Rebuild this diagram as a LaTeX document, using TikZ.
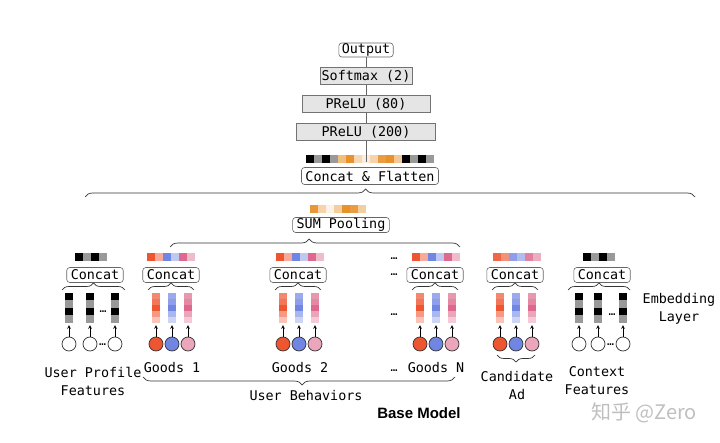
\documentclass[tikz,border=0pt]{standalone}
\usepackage{fontspec}
\setmonofont{DejaVu Sans Mono}
\newfontfamily\basefont{Liberation Sans}
\newfontfamily\cjkfont{Noto Sans CJK SC}
\usetikzlibrary{arrows, decorations.pathreplacing, positioning}

\definecolor{redc}{HTML}{EE5531}
\definecolor{bluec}{HTML}{7186E2}
\definecolor{pinkc}{HTML}{DD6A8E}
\definecolor{orgc}{HTML}{E8912D}

\tikzstyle{layer} = [rectangle, draw=black!55, fill=black!10, line width=0.6pt, minimum height=16.5pt, inner sep=0pt]
\tikzstyle{concat} = [rectangle, rounded corners=3pt, draw=black!60, fill=white, line width=0.6pt, minimum height=15pt, inner xsep=4pt, inner ysep=0pt]
\tikzstyle{feat} = [circle, draw=black!80, line width=0.7pt, minimum size=14pt, inner sep=0pt]
\tikzstyle{arrow} = [->, >=stealth, line width=0.6pt, shorten >=2pt]
\tikzstyle{link} = [draw=black!60, line width=0.6pt]
\tikzstyle{curly} = [decorate, decoration={brace, amplitude=8pt}, line width=0.7pt, black!80]
\tikzstyle{ell} = [font=\ttfamily\fontsize{11.5}{11.5}\selectfont, inner sep=0pt, anchor=base]

% horizontal embedding: x left, y top, colours
\newcommand{\embrow}[3]{\foreach \cc [count=\i from 0] in {#3} \fill[\cc] ({#1+8*\i-0.2},#2) rectangle ++(8.4,8);}
% vertical embedding: name, x centre, cell height, colours
\newcommand{\embcol}[4]{%
  \foreach \cc [count=\i from 0] in {#4} \fill[\cc] ({#2-4},{293+#3*\i-0.2}) rectangle ++(8,#3+0.4);
  \node[inner sep=0pt, minimum width=8pt, minimum height=30pt] (#1) at ({#2},308) {};}

\begin{document}
\begin{tikzpicture}[x=1pt, y=-1pt, node distance=28pt, font=\ttfamily\fontsize{13.4}{18}\selectfont]
  \useasboundingbox (0,0) rectangle (720,443);

  % MLP on top
  \node (out) [concat, minimum height=14pt, inner xsep=3pt] at (366,50) {Output};
  \node (soft) [layer, minimum width=92pt, below of=out, node distance=26pt] {Softmax (2)};
  \node (p80) [layer, minimum width=128pt, below of=soft] {PReLU (80)};
  \node (p200) [layer, minimum width=139pt, below of=p80] {PReLU (200)};
  \embrow{306}{155}{black,black!40,black,black!40,orgc!60,orgc,orgc!35,orgc!15,orgc!40,orgc!90,orgc,orgc!50,black,black!40,black,black!40}
  \coordinate (flatvec) at (366,162);
  \node (flat) [concat, minimum height=17pt] at (370,176) {Concat \& Flatten};
  \draw [link] (out) -- (soft) (soft) -- (p80) (p80) -- (p200) (p200) -- (flatvec);
  \draw [curly, decoration={aspect=0.46}] (85,197) -- (695,197);

  % sum pooling
  \embrow{310}{205}{orgc!95,orgc!40,orgc!12,orgc!45,orgc,orgc!90,orgc!45}
  \node (sum) [concat] at (341,225) {SUM Pooling};
  \draw [curly, decoration={aspect=0.48}] (170,247) -- (460,247);

  % user profile
  \embrow{75}{253}{black,black!40,black,black!40}
  \node (cprof) [concat] at (95,275) {Concat};
  \draw [curly, decoration={amplitude=7pt}] (62,290) -- (125,290);
  \embcol{pv1}{69}{7.5}{black,black!40,black,black!40}
  \embcol{pv2}{90}{7.5}{black,black!40,black,black!40}
  \embcol{pv3}{115}{7.5}{black,black!40,black,black!40}
  \node (pf1) [feat, fill=white] at (69,344) {};
  \node (pf2) [feat, fill=white] at (90,344) {};
  \node (pf3) [feat, fill=white] at (115,344) {};
  \foreach \k in {1,2,3} \draw [arrow] (pf\k) -- (pv\k);
  \node (pdots) [ell] at (103,313) {…};
  \node (pfdots) [ell] at (102.5,346) {…};

  % goods and candidate ad
  \embrow{147}{253}{redc,redc!50,bluec,bluec!45,pinkc,pinkc!45}
  \embrow{276}{253}{redc,redc!50,bluec,bluec!45,pinkc,pinkc!45}
  \embrow{412}{253}{redc,redc!50,bluec,bluec!45,pinkc,pinkc!45}
  \embrow{493}{253}{redc!90,redc!65,bluec!80,bluec!55,pinkc!85,pinkc!55}
  \foreach \gx/\gn in {172/ga, 299/gb, 436/gc, 516/gd} {
    \node (\gn-cat) [concat] at ({\gx-1},275) {Concat};
    \draw [curly, decoration={amplitude=7pt}] ({\gx-24},290) -- ({\gx+22},290);
    \embcol{\gn-v1}{\gx-16}{6}{redc!70,redc!80,redc,redc!60,redc!35}
    \embcol{\gn-v2}{\gx}{6}{bluec!70,bluec!80,bluec,bluec!60,bluec!35}
    \embcol{\gn-v3}{\gx+16}{6}{pinkc!70,pinkc!80,pinkc,pinkc!60,pinkc!35}
    \node (\gn-c1) [feat, fill=redc] at ({\gx-16},344) {};
    \node (\gn-c2) [feat, fill=bluec] at (\gx,344) {};
    \node (\gn-c3) [feat, fill=pinkc!60] at ({\gx+16},344) {};
    \foreach \k in {1,2,3} \draw [arrow] (\gn-c\k) -- (\gn-v\k);
  }
  \node (d1) [ell] at (394,260) {…};
  \node (d2) [ell] at (394,276) {…};
  \node (d3) [ell] at (394,316) {…};
  \node (d4) [ell] at (394,371) {…};
  \node (lg1) at (172,368) {Goods 1};
  \node (lg2) at (300,368) {Goods 2};
  \node (lgn) at (436,368) {Goods N};
  \draw [curly, decoration={mirror, amplitude=7pt}] (497,355) -- (535,355);
  \draw [curly, decoration={mirror, aspect=0.51}] (143,377) -- (455,377);
  \node (lub) at (306,396) {User Behaviors};

  % context
  \embrow{583}{253}{black,black!40,black,black!40}
  \node (cctx) [concat] at (602,275) {Concat};
  \draw [curly, decoration={amplitude=7pt}] (568,290) -- (630,290);
  \embcol{xv1}{579}{7.5}{black,black!40,black,black!40}
  \embcol{xv2}{598}{7.5}{black,black!40,black,black!40}
  \embcol{xv3}{623}{7.5}{black,black!40,black,black!40}
  \node (xf1) [feat, fill=white] at (579,344) {};
  \node (xf2) [feat, fill=white] at (598,344) {};
  \node (xf3) [feat, fill=white] at (623,344) {};
  \foreach \k in {1,2,3} \draw [arrow] (xf\k) -- (xv\k);
  \node (xdots) [ell] at (612,316) {…};
  \node (xfdots) [ell] at (610.5,346) {…};

  % labels
  \node (lprof) [align=center] at (93,381) {User Profile\\Features};
  \node (lcand) [align=center] at (517,386) {Candidate\\Ad};
  \node (lctx) [align=center] at (597,381) {Context\\Features};
  \node (lemb) [align=center] at (679,309) {Embedding\\Layer};
  \node (base) [font=\basefont\bfseries\fontsize{15}{15}\selectfont] at (419,413) {Base Model};
  \node (mark) [text=black!25, font=\cjkfont\fontsize{20}{20}\selectfont] at (644,413) {知乎 @Zero};
\end{tikzpicture}
\end{document}
